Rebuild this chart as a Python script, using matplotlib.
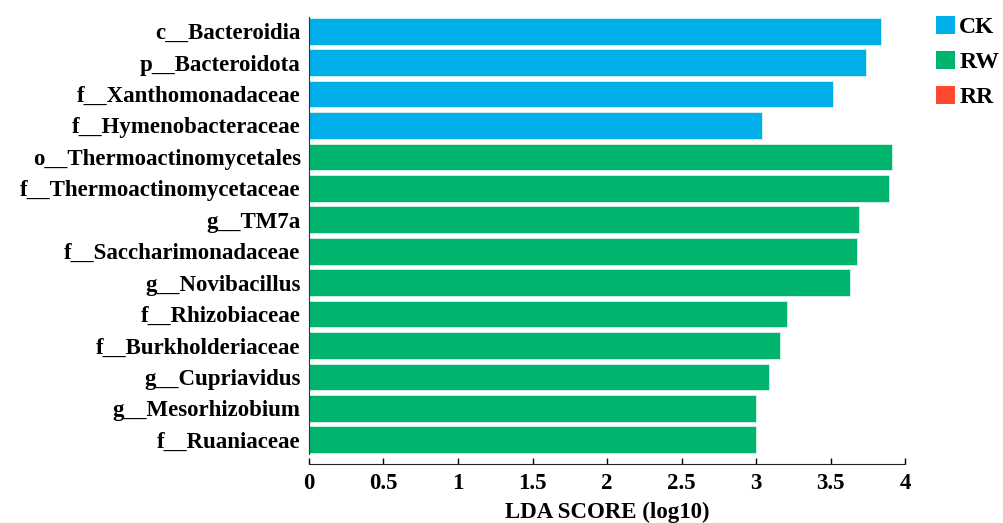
import matplotlib.pyplot as plt
from matplotlib.patches import Patch

# LEfSe LDA scores, listed top to bottom
taxa = ['c__Bacteroidia', 'p__Bacteroidota', 'f__Xanthomonadaceae', 'f__Hymenobacteraceae',
        'o__Thermoactinomycetales', 'f__Thermoactinomycetaceae', 'g__TM7a',
        'f__Saccharimonadaceae', 'g__Novibacillus', 'f__Rhizobiaceae',
        'f__Burkholderiaceae', 'g__Cupriavidus', 'g__Mesorhizobium', 'f__Ruaniaceae']
lda = [3.84, 3.74, 3.52, 3.04, 3.91, 3.89, 3.69, 3.68, 3.63, 3.21, 3.16, 3.09, 3.00, 3.00]
group = ['CK'] * 4 + ['RW'] * 10

groups = ['CK', 'RW', 'RR']
colors = {'CK': '#00AEEA', 'RW': '#00B46E', 'RR': '#FF4A2F'}

plt.rcParams['font.family'] = ['Liberation Serif', 'DejaVu Serif']
plt.rcParams['font.weight'] = 'bold'

fig = plt.figure(figsize=(10.04, 5.23), dpi=100)
ax = fig.add_axes([309 / 1004, 1 - 454 / 523, 596 / 1004, 437 / 523])

y = list(range(len(taxa)))
ax.barh(y, lda, height=0.85, color=[colors[g] for g in group],
        edgecolor='#d8f3ea', linewidth=0.6)

ax.set_ylim(len(taxa) - 0.55, -0.45)
ax.set_xlim(0, 4)
ax.set_xticks([0, 0.5, 1, 1.5, 2, 2.5, 3, 3.5, 4])
ax.set_xticklabels(['0', '0.5', '1', '1.5', '2', '2.5', '3', '3.5', '4'])
ax.set_yticks(y)
ax.set_yticklabels(taxa)

ax.spines['top'].set_visible(False)
ax.spines['right'].set_visible(False)
ax.spines['bottom'].set_position(('outward', 7))
ax.spines['left'].set_color('#333333')
ax.spines['bottom'].set_color('#222222')
ax.tick_params(axis='y', length=0, pad=6, labelsize=16.5)
ax.tick_params(axis='x', direction='in', length=4.5, width=1, pad=7, labelsize=16.5)
for lab in ax.get_xticklabels() + ax.get_yticklabels():
    lab.set_fontweight('bold')

ax.set_xlabel('LDA SCORE (log10)', fontsize=16.5, fontweight='bold', labelpad=5)

handles = [Patch(facecolor=colors[g], edgecolor='none', label=g) for g in groups]
leg = fig.legend(handles=handles, loc='upper left', bbox_to_anchor=(931 / 1004, 1 - 11 / 523),
                 frameon=False, prop={'size': 17, 'weight': 'bold'},
                 handlelength=0.8, handleheight=0.8, handletextpad=0.2,
                 labelspacing=0.55, borderaxespad=0, borderpad=0.2)

fig.savefig('out.png', dpi=100)
